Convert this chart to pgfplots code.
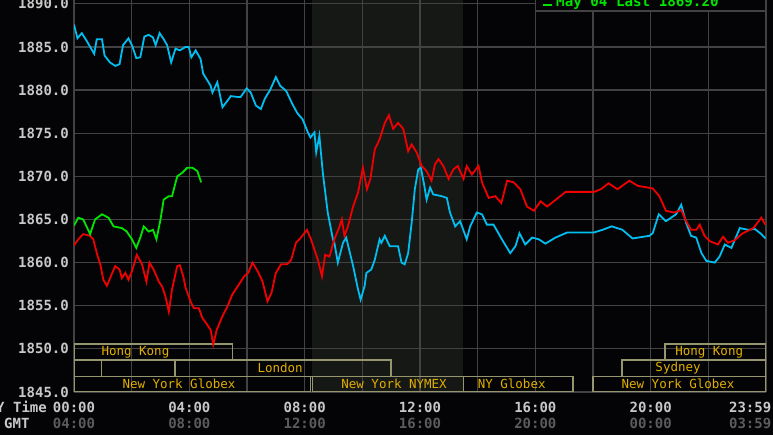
\documentclass[border=0pt]{standalone}
\usepackage{pgfplots}
\pgfplotsset{compat=1.18}
\usepackage{fontspec}
\setmainfont{DejaVu Sans Mono}
\definecolor{bgc}{RGB}{4,4,6}
\definecolor{gridc}{RGB}{66,66,66}
\definecolor{shadec}{RGB}{22,24,22}
\definecolor{cyanc}{RGB}{0,190,240}
\definecolor{redc}{RGB}{240,0,0}
\definecolor{greenc}{RGB}{0,230,0}
\definecolor{sessb}{RGB}{150,150,110}
\definecolor{sesst}{RGB}{225,175,0}
\definecolor{tickc}{RGB}{200,200,200}
\definecolor{gmtc}{RGB}{92,92,92}
\begin{document}
\begin{tikzpicture}
\fill[bgc] (0,0) rectangle (773pt,435pt);
% NYMEX trading hours shading (8:15 to 13:30)
\fill[shadec] (311.9pt,43pt) rectangle (463.3pt,435pt);
\begin{axis}[
  at={(74pt,43pt)}, anchor=south west, scale only axis,
  width=692pt, height=392pt,
  xmin=0, xmax=24, ymin=1845, ymax=1890.44,
  axis line style={draw=none},
  major tick length=0pt, minor tick length=0pt,
  xtick={0,4,8,12,16,20,23.45},
  xticklabels={{00:00\\\textcolor{gmtc}{04:00}},{04:00\\\textcolor{gmtc}{08:00}},{08:00\\\textcolor{gmtc}{12:00}},{12:00\\\textcolor{gmtc}{16:00}},{16:00\\\textcolor{gmtc}{20:00}},{20:00\\\textcolor{gmtc}{00:00}},{23:59\\\textcolor{gmtc}{03:59}}},
  minor xtick={0,2,...,24},
  xmajorgrids=false, xminorgrids=true,
  ytick={1845,1850,1855,1860,1865,1870,1875,1880,1885,1890},
  yticklabels={1845.0,1850.0,1855.0,1860.0,1865.0,1870.0,1875.0,1880.0,1885.0,1890.0},
  ymajorgrids=true,
  grid style={gridc, line width=1.2pt},
  minor grid style={gridc, line width=1.2pt},
  xticklabel style={align=center, anchor=north, inner sep=0pt, yshift=-9.5pt, text=tickc, font=\fontsize{14}{16.3}\selectfont\bfseries},
  yticklabel style={anchor=east, inner sep=0pt, xshift=-5pt, text=tickc, font=\fontsize{14}{16}\selectfont\bfseries},
]
% session boxes
\begin{scope}[sessb, line width=1.4pt]
\draw (axis cs:0,1848.7) rectangle (axis cs:5.5,1850.55);
\draw (axis cs:20.5,1848.7) rectangle (axis cs:24,1850.55);
\draw (axis cs:0,1846.8) rectangle (axis cs:0.96,1848.7);
\draw (axis cs:0.96,1846.8) rectangle (axis cs:3.5,1848.7);
\draw (axis cs:3.5,1846.8) rectangle (axis cs:11,1848.7);
\draw (axis cs:19,1846.8) rectangle (axis cs:24,1848.7);
\draw (axis cs:0,1845) rectangle (axis cs:8.2,1846.8);
\draw (axis cs:8.28,1845) rectangle (axis cs:13.5,1846.8);
\draw (axis cs:13.5,1845) rectangle (axis cs:17.3,1846.8);
\draw (axis cs:18,1845) rectangle (axis cs:24,1846.8);
\end{scope}
\begin{scope}[every node/.style={text=sesst, font=\fontsize{12.5}{13}\selectfont, inner sep=0pt}]
\node at (axis cs:2.13,1849.62) {Hong Kong};
\node at (axis cs:22.03,1849.62) {Hong Kong};
\node at (axis cs:7.15,1847.75) {London};
\node at (axis cs:20.95,1847.75) {Sydney};
\node at (axis cs:3.64,1845.9) {New York Globex};
\node at (axis cs:11.1,1845.9) {New York NYMEX};
\node at (axis cs:15.18,1845.9) {NY Globex};
\node at (axis cs:20.95,1845.9) {New York Globex};
\end{scope}
% cyan
\addplot[cyanc, line width=1.8pt] coordinates {
(0,1887.6)(0.12,1886.0)(0.27,1886.6)(0.44,1885.7)(0.70,1884.2)(0.79,1885.9)(0.97,1885.9)(1.06,1884.0)(1.25,1883.2)(1.43,1882.8)(1.58,1883.0)(1.70,1885.2)(1.89,1886.0)(2.01,1885.2)(2.16,1883.7)(2.30,1883.8)(2.44,1886.2)(2.59,1886.4)(2.74,1886.1)(2.83,1885.2)(2.97,1886.6)(3.11,1885.9)(3.23,1885.2)(3.37,1883.2)(3.52,1884.8)(3.67,1884.6)(3.87,1885.0)(3.98,1885.0)(4.07,1883.8)(4.22,1884.6)(4.39,1883.6)(4.48,1881.9)(4.74,1880.5)(4.80,1879.7)(4.97,1880.9)(5.15,1878.0)(5.44,1879.3)(5.67,1879.2)(5.78,1879.2)(5.99,1880.2)(6.13,1879.7)(6.31,1878.2)(6.48,1877.8)(6.62,1879.0)(6.80,1880.0)(7.00,1881.5)(7.15,1880.5)(7.36,1879.9)(7.57,1878.4)(7.75,1877.3)(7.93,1876.6)(8.11,1875.1)(8.20,1874.5)(8.34,1875.1)(8.40,1872.8)(8.51,1874.7)(8.63,1870.4)(8.80,1865.8)(8.98,1862.7)(9.03,1862.3)(9.15,1860.0)(9.33,1862.3)(9.44,1862.9)(9.68,1859.6)(9.85,1856.9)(9.94,1855.7)(10.08,1857.3)(10.14,1858.8)(10.31,1859.2)(10.43,1860.3)(10.60,1862.7)(10.66,1862.3)(10.78,1863.1)(10.95,1861.9)(11.13,1861.9)(11.24,1861.9)(11.36,1860.0)(11.47,1859.8)(11.59,1861.1)(11.71,1864.6)(11.82,1868.5)(11.94,1870.8)(12.03,1871.0)(12.15,1868.9)(12.23,1867.3)(12.35,1868.7)(12.46,1867.9)(12.75,1867.7)(12.93,1867.5)(13.04,1865.8)(13.22,1864.2)(13.39,1864.8)(13.62,1862.7)(13.74,1864.2)(13.97,1865.8)(14.15,1865.6)(14.32,1864.4)(14.55,1864.4)(14.84,1862.7)(15.13,1861.1)(15.31,1861.9)(15.45,1863.4)(15.65,1862.1)(15.89,1862.9)(16.12,1862.7)(16.35,1862.2)(16.70,1862.9)(17.11,1863.5)(18.04,1863.5)(18.33,1863.8)(18.65,1864.2)(19.02,1863.8)(19.37,1862.8)(19.95,1863.1)(20.07,1863.4)(20.28,1865.6)(20.53,1864.8)(20.88,1865.6)(21.06,1866.7)(21.23,1864.6)(21.40,1863.1)(21.58,1862.9)(21.76,1861.1)(21.93,1860.2)(22.22,1860.0)(22.39,1860.7)(22.57,1862.1)(22.80,1861.7)(23.09,1864.0)(23.38,1863.8)(23.61,1863.9)(23.84,1863.3)(23.98,1862.8)
};
% red
\addplot[redc, line width=1.8pt] coordinates {
(0,1862.0)(0.15,1862.7)(0.32,1863.3)(0.56,1863.1)(0.67,1862.7)(0.79,1861.1)(0.91,1859.8)(1.02,1858.0)(1.14,1857.3)(1.25,1858.2)(1.43,1859.6)(1.58,1859.2)(1.66,1858.2)(1.78,1858.8)(1.89,1858.0)(2.01,1859.0)(2.18,1860.9)(2.36,1859.8)(2.51,1857.8)(2.62,1860.0)(2.76,1859.2)(2.94,1857.8)(3.06,1857.2)(3.17,1856.1)(3.29,1854.3)(3.40,1856.9)(3.58,1859.6)(3.67,1859.7)(3.79,1858.4)(3.87,1857.1)(4.04,1855.5)(4.16,1854.7)(4.33,1854.7)(4.45,1853.6)(4.62,1852.8)(4.74,1852.2)(4.83,1850.5)(4.95,1852.2)(5.15,1853.8)(5.32,1854.9)(5.49,1856.3)(5.67,1857.2)(5.90,1858.4)(6.04,1858.8)(6.19,1860.0)(6.37,1859.0)(6.54,1857.8)(6.71,1855.5)(6.85,1856.5)(7.00,1858.8)(7.18,1859.8)(7.39,1859.8)(7.53,1860.3)(7.70,1862.3)(7.87,1862.9)(8.08,1863.8)(8.22,1862.7)(8.46,1860.3)(8.60,1858.4)(8.71,1860.9)(8.86,1860.7)(9.03,1862.7)(9.21,1864.2)(9.29,1865.0)(9.38,1863.1)(9.50,1864.2)(9.68,1866.5)(9.85,1868.1)(10.02,1871.0)(10.16,1868.5)(10.28,1869.7)(10.43,1873.1)(10.60,1874.3)(10.78,1876.2)(10.92,1877.1)(11.07,1875.5)(11.24,1876.2)(11.42,1875.5)(11.59,1872.9)(11.71,1873.7)(11.88,1872.8)(12.06,1871.2)(12.23,1870.6)(12.40,1869.5)(12.52,1871.4)(12.64,1872.0)(12.81,1871.2)(12.99,1869.7)(13.16,1870.8)(13.31,1871.2)(13.51,1869.7)(13.62,1871.2)(13.80,1870.2)(14.03,1871.2)(14.15,1869.3)(14.38,1867.5)(14.61,1867.7)(14.82,1866.9)(15.02,1869.5)(15.25,1869.3)(15.48,1868.5)(15.71,1866.5)(15.95,1866.0)(16.18,1867.1)(16.41,1866.5)(16.64,1867.1)(17.05,1868.2)(18.04,1868.2)(18.27,1868.5)(18.54,1869.2)(18.85,1868.5)(19.26,1869.5)(19.55,1868.9)(19.90,1868.7)(20.07,1868.6)(20.30,1867.7)(20.53,1866.0)(20.82,1865.8)(21.06,1866.1)(21.23,1864.8)(21.40,1863.8)(21.58,1863.8)(21.70,1864.4)(21.87,1863.1)(22.04,1862.5)(22.33,1862.1)(22.51,1863.0)(22.68,1862.3)(22.92,1862.6)(23.15,1863.3)(23.56,1864.0)(23.84,1865.2)(23.98,1864.4)
};
% green
\addplot[greenc, line width=1.8pt] coordinates {
(0,1864.3)(0.15,1865.2)(0.32,1865.0)(0.56,1863.3)(0.73,1865.0)(0.97,1865.6)(1.20,1865.2)(1.37,1864.2)(1.66,1864.0)(1.83,1863.6)(2.01,1862.7)(2.16,1861.7)(2.30,1862.9)(2.42,1864.2)(2.59,1863.6)(2.74,1863.8)(2.86,1862.7)(3.00,1865.0)(3.11,1867.3)(3.29,1867.7)(3.40,1867.7)(3.58,1870.0)(3.75,1870.4)(3.93,1871.0)(4.10,1871.0)(4.28,1870.6)(4.41,1869.3)
};
\end{axis}
% legend fragment at top
\fill[bgc] (535.7pt,424pt) rectangle (766pt,440pt);
\draw[gridc, line width=1.2pt] (535.7pt,440pt) -- (535.7pt,424pt) -- (766pt,424pt) -- (766pt,440pt);
\draw[greenc, line width=2pt] (543pt,430pt) -- (552pt,430pt);
\node[anchor=base west, inner sep=0pt, text=greenc, font=\fontsize{14.2}{15}\selectfont\bfseries] at (556pt,428.5pt) {May 04 Last 1869.20};
% left labels
\node[anchor=east, inner sep=0pt, text=tickc, font=\fontsize{14}{15}\selectfont\bfseries] at (47pt,28.3pt) {NY Time};
\node[anchor=west, inner sep=0pt, text=tickc, font=\fontsize{14}{15}\selectfont\bfseries] at (4pt,12pt) {GMT};
\pgfresetboundingbox
\useasboundingbox (0,0) rectangle (773pt,435pt);
\end{tikzpicture}
\end{document}
